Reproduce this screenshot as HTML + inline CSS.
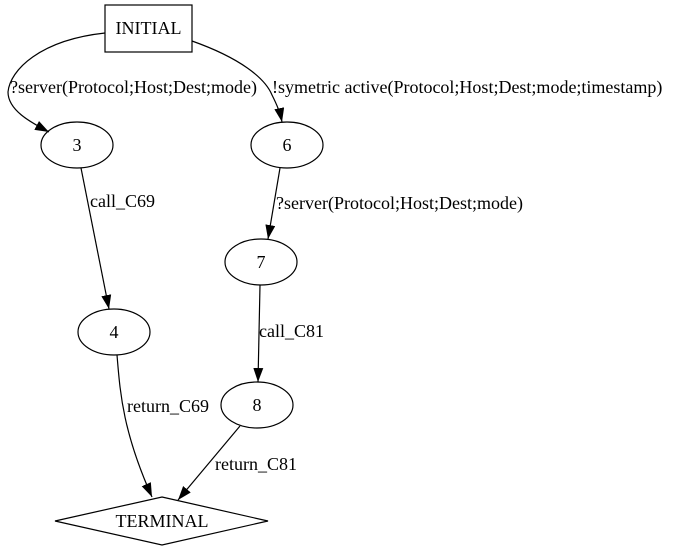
<!DOCTYPE html>
<html><head><meta charset="utf-8"><style>
html,body{margin:0;padding:0;background:#fff;width:674px;height:551px;overflow:hidden}
text{font-family:"Liberation Serif",serif;font-size:18px;fill:#000}
</style></head><body>
<svg width="674" height="551" viewBox="0 0 674 551" xmlns="http://www.w3.org/2000/svg">
<defs><marker id="a" markerWidth="14" markerHeight="10" refX="14" refY="5" orient="auto" markerUnits="userSpaceOnUse"><path d="M0,0 L14,5 L0,10 z" fill="#000"/></marker></defs>
<g fill="none" stroke="#000" stroke-width="1.2">
<rect x="105" y="5" width="87" height="47"/>
<ellipse cx="77" cy="145" rx="36" ry="23"/>
<ellipse cx="287" cy="145" rx="36" ry="23"/>
<ellipse cx="261" cy="262" rx="36" ry="23"/>
<ellipse cx="114" cy="332" rx="36" ry="23"/>
<ellipse cx="257" cy="405" rx="36" ry="23"/>
<polygon points="162,497 268,521 162,545 55,521"/>
<path d="M105,33 C40,40 10,70 8,92 C8,110 30,122 49,132" marker-end="url(#a)"/>
<path d="M192,41 C240,58 265,78 272,95 C277,105 280,112 282,122" marker-end="url(#a)"/>
<path d="M81,168 L109,309" marker-end="url(#a)"/>
<path d="M280,168 L268,239" marker-end="url(#a)"/>
<path d="M260,285 L258,382" marker-end="url(#a)"/>
<path d="M117,355 C120,390 122,430 152,497" marker-end="url(#a)"/>
<path d="M240,426 L178,500" marker-end="url(#a)"/>
</g>
<text x="148.5" y="34" text-anchor="middle">INITIAL</text>
<text x="77" y="151" text-anchor="middle">3</text>
<text x="287" y="151" text-anchor="middle">6</text>
<text x="261" y="268" text-anchor="middle">7</text>
<text x="114" y="338" text-anchor="middle">4</text>
<text x="257" y="411" text-anchor="middle">8</text>
<text x="162" y="527" text-anchor="middle">TERMINAL</text>
<text x="10" y="93">?server(Protocol;Host;Dest;mode)</text>
<text x="272" y="93">!symetric active(Protocol;Host;Dest;mode;timestamp)</text>
<text x="90" y="207">call_C69</text>
<text x="276" y="209">?server(Protocol;Host;Dest;mode)</text>
<text x="259" y="337">call_C81</text>
<text x="127" y="412">return_C69</text>
<text x="215" y="470">return_C81</text>
</svg>
</body></html>
